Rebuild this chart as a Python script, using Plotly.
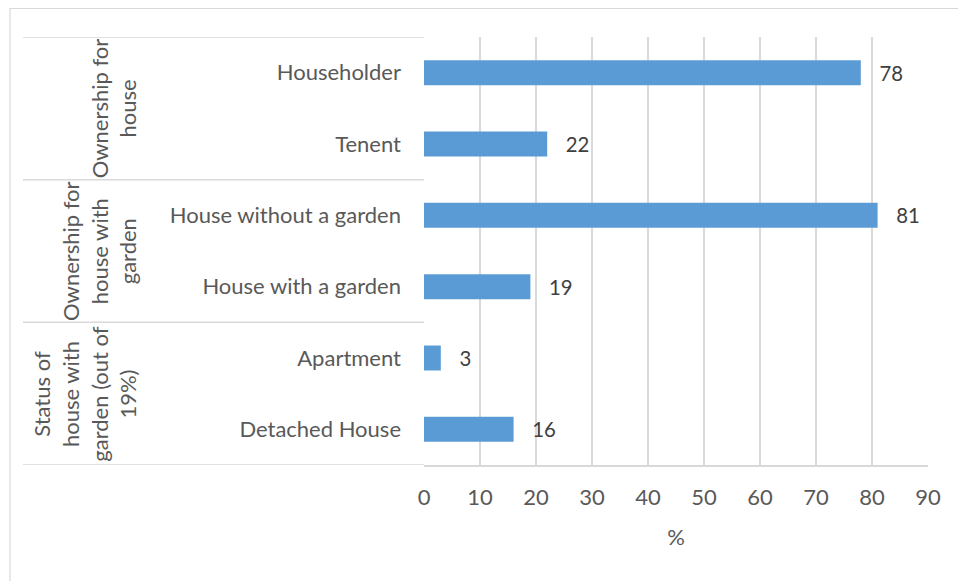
import plotly.graph_objects as go

categories = ["Householder", "Tenent", "House without a garden",
              "House with a garden", "Apartment", "Detached House"]
values = [78, 22, 81, 19, 3, 16]
groups = ["Ownership for<br>house",
          "Ownership for<br>house with<br>garden",
          "Status of<br>house with<br>garden (out of<br>19%)"]
group_members = [[0, 1], [2, 3], [4, 5]]
x_ticks = [0, 10, 20, 30, 40, 50, 60, 70, 80, 90]

FONT = "Lato"
FS = 22
GRID = "#D9D9D9"
TXT = "#595959"

W, H = 958, 581
L, R, T, B = 424, 30, 37, 116
pw = W - L - R
ph = H - T - B

def px_x(p):
    return (p - L) / pw

def px_y(p):
    return (H - B - p) / ph

fig = go.Figure()
fig.add_trace(go.Bar(
    y=categories, x=values, orientation="h",
    marker=dict(color="#5B9BD5", line=dict(width=0)),
    width=0.35,
    text=values, texttemplate="\u00a0\u00a0\u00a0%{x}", textposition="outside",
    textfont=dict(family=FONT, size=FS, color="#404040"),
    cliponaxis=False,
))

shapes = []
# outer chart border (top + left visible)
shapes.append(dict(type="rect", xref="paper", yref="paper",
                   x0=px_x(10), x1=px_x(1200), y0=px_y(900), y1=px_y(8.5),
                   line=dict(color=GRID, width=1.2), fillcolor="rgba(0,0,0,0)", layer="below"))
# group dividers
bounds = [-0.5] + [m[-1] + 0.5 for m in group_members]
for b in bounds:
    shapes.append(dict(type="line", xref="paper", yref="y",
                       x0=px_x(23), x1=0, y0=b, y1=b,
                       line=dict(color=GRID, width=1.5)))

annotations = []
centers_x = [114, 99, 85]
for g, m, cx in zip(groups, group_members, centers_x):
    yc = (m[0] + m[-1]) / 2
    annotations.append(dict(text=g, xref="paper", yref="y", x=px_x(cx), y=yc,
                            textangle=-90, showarrow=False, xanchor="center", yanchor="middle",
                            font=dict(family=FONT, size=FS, color=TXT), align="center"))

fig.update_layout(
    width=W, height=H,
    margin=dict(l=L, r=R, t=T, b=B, pad=0),
    paper_bgcolor="white", plot_bgcolor="white",
    showlegend=False,
    shapes=shapes, annotations=annotations,
    xaxis=dict(range=[0, 90], tickvals=x_ticks, showgrid=True, gridcolor=GRID, gridwidth=1.5,
               zeroline=False, showline=True, linecolor=GRID, linewidth=1.5,
               ticks="", ticklabelstandoff=12,
               tickfont=dict(family=FONT, size=FS, color=TXT),
               title=dict(text="%", font=dict(family=FONT, size=FS, color=TXT), standoff=20)),
    yaxis=dict(autorange=False, range=[5.5, -0.5], type="category",
               categoryorder="array", categoryarray=categories,
               showgrid=False, zeroline=False, showline=False, ticks="",
               ticklabelstandoff=22,
               tickfont=dict(family=FONT, size=FS, color=TXT)),
)

fig.write_html("out.html", config={"displayModeBar": False},
               post_script="document.body.style.margin='0';")
